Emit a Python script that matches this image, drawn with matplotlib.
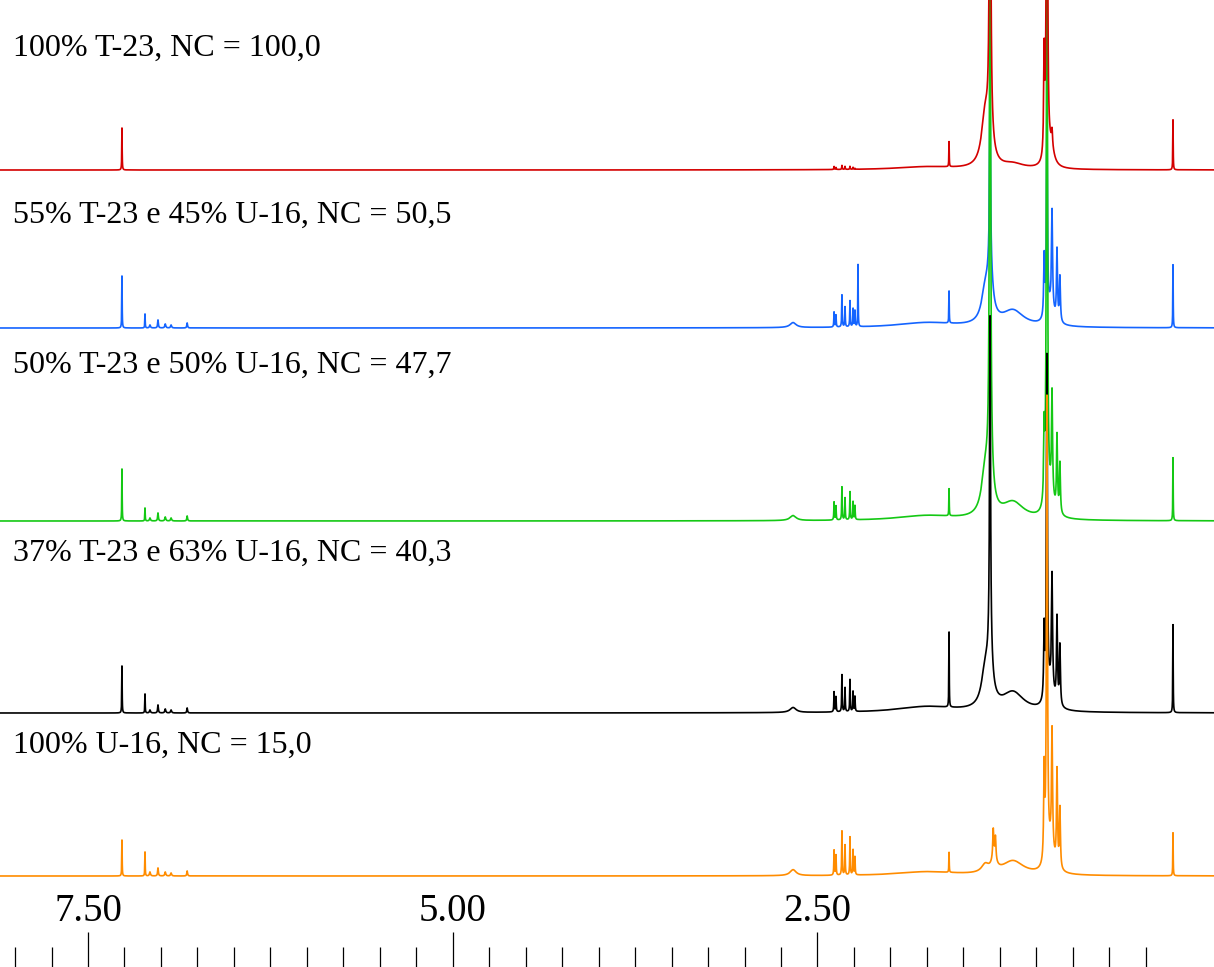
import numpy as np
import matplotlib
matplotlib.use('Agg')
import matplotlib.pyplot as plt
from matplotlib.ticker import FixedLocator, FixedFormatter

# peak table shared by all spectra: chemical shift (ppm) and half width (ppm)
shifts = [7.267, 7.109, 7.075, 7.020, 6.970, 6.930, 6.820,
          2.667, 2.386, 2.373, 2.332, 2.311, 2.277, 2.256, 2.243, 2.222,
          1.750, 1.598, 1.317, 1.317, 1.350, 1.160, 1.295, 1.280, 1.290,
          0.946, 0.927, 0.892, 0.858, 0.838, 0.900, 0.063]
widths = [0.0015, 0.0015, 0.004, 0.003, 0.004, 0.004, 0.003,
          0.025, 0.002, 0.002, 0.002, 0.002, 0.002, 0.002, 0.002, 0.0015,
          0.25, 0.0015, 0.004, 0.02, 0.03, 0.09, 0.004, 0.004, 0.02,
          0.004, 0.004, 0.004, 0.004, 0.004, 0.025, 0.0015]

# peak intensities of each blend (same order as shifts)
h_t23 = [42, 0, 0, 0, 0, 0, 0,
         0, 3, 2, 4, 3, 3, 2, 1, 0,
         3, 25, 600, 30, 50, 5, 0, 0, 0,
         100, 600, 15, 0, 0, 20, 50]
h_55 = [52, 14, 3, 8, 4, 3, 5,
        5, 15, 12, 32, 20, 26, 18, 16, 62,
        5, 32, 170, 50, 30, 16, 0, 0, 0,
        60, 210, 95, 70, 45, 20, 63]
h_50 = [52, 13, 3, 8, 4, 3, 5,
        5, 18, 14, 33, 22, 28, 18, 14, 0,
        5, 27, 700, 45, 40, 17, 0, 0, 0,
        70, 700, 100, 75, 50, 22, 63]
h_37 = [47, 19, 3, 8, 4, 3, 5,
        5, 20, 15, 37, 24, 32, 20, 15, 0,
        6, 75, 330, 45, 35, 19, 0, 0, 0,
        70, 340, 110, 85, 60, 25, 88]
h_u16 = [36, 24, 4, 8, 4, 3, 5,
         6, 25, 20, 44, 30, 38, 25, 18, 0,
         4, 20, 0, 0, 8, 14, 28, 22, 12,
         90, 460, 115, 95, 60, 28, 43]

labels = ['100% T-23, NC = 100,0',
          '55% T-23 e 45% U-16, NC = 50,5',
          '50% T-23 e 50% U-16, NC = 47,7',
          '37% T-23 e 63% U-16, NC = 40,3',
          '100% U-16, NC = 15,0']
colors = ['#d40000', '#1464ff', '#14c814', '#000000', '#ff8c00']
offsets = [797, 639, 446, 254, 91]
label_y = [919, 752, 602, 414, 222]

ppm = np.arange(-0.25, 8.15, 0.00025)


def spectrum(heights):
    y = np.zeros_like(ppm)
    for c, w, h in zip(shifts, widths, heights):
        y += h * w**2 / ((ppm - c)**2 + w**2)
    return y


plt.rcParams['font.family'] = ['Liberation Serif', 'DejaVu Serif']

fig = plt.figure(figsize=(12.14, 9.67), dpi=100)
ax = fig.add_axes([0, 0, 1, 1])

series = [h_t23, h_55, h_50, h_37, h_u16]
# blue first, red last so it sits on top
order = [1, 2, 3, 4, 0]
for z, i in enumerate(order):
    ax.plot(ppm, spectrum(series[i]) + offsets[i], color=colors[i], lw=1.2,
            zorder=2 + z)

for lab, ly in zip(labels, label_y):
    ax.text(13, ly, lab, transform=None, fontsize=23, va='center', ha='left')

ax.set_xlim(8.103, -0.218)
ax.set_ylim(0, 967)
for s in ax.spines.values():
    s.set_visible(False)
ax.yaxis.set_visible(False)

ax.xaxis.set_major_locator(FixedLocator([7.5, 5.0, 2.5]))
ax.xaxis.set_major_formatter(FixedFormatter(['7.50', '5.00', '2.50']))
ax.xaxis.set_minor_locator(FixedLocator([v for v in np.arange(0.25, 8.01, 0.25)
                                         if abs(v % 2.5) > 1e-6]))
ax.tick_params(axis='x', which='major', direction='in', length=25, width=0.9,
               pad=-53, labelsize=28)
ax.tick_params(axis='x', which='minor', direction='in', length=14.5, width=0.9)

fig.savefig('out.png', dpi=100)
